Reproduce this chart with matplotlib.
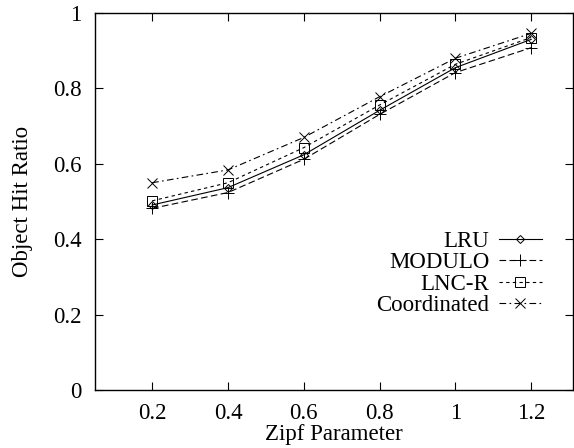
import matplotlib
matplotlib.use("Agg")
import matplotlib.pyplot as plt

plt.rcParams['font.family'] = ['Liberation Serif', 'DejaVu Serif']

# Data
zipf = [0.2, 0.4, 0.6, 0.8, 1.0, 1.2]
lru = [0.491, 0.537, 0.624, 0.742, 0.855, 0.930]
modulo = [0.482, 0.524, 0.612, 0.731, 0.842, 0.908]
lncr = [0.502, 0.550, 0.643, 0.756, 0.864, 0.935]
coordinated = [0.550, 0.584, 0.670, 0.778, 0.880, 0.946]

fig = plt.figure(figsize=(5.74, 4.48), dpi=100)
ax = fig.add_axes([0.166, 0.129, 0.832, 0.842])

lw = 0.8
ax.plot(zipf, lru, color='black', lw=lw, ls='-', marker='D', ms=4.5,
        mfc='none', mew=0.7, label='LRU')
ax.plot(zipf, modulo, color='black', lw=lw, ls=(0, (6, 3)), marker='+', ms=8,
        mew=0.7, label='MODULO')
ax.plot(zipf, lncr, color='black', lw=lw, ls=(0, (3, 3)), marker='s', ms=6.5,
        mfc='none', mew=0.7, label='LNC-R')
ax.plot(zipf, coordinated, color='black', lw=lw, ls=(0, (6, 3, 1.5, 3)), marker='x', ms=6.5,
        mew=0.7, label='Coordinated')

ax.set_xlim(0.05, 1.31)
ax.set_ylim(0, 1)
ax.set_xticks(zipf)
ax.set_xticklabels(['0.2', '0.4', '0.6', '0.8', '1', '1.2'])
ax.set_yticks([0, 0.2, 0.4, 0.6, 0.8, 1])
ax.set_yticklabels(['0', '0.2', '0.4', '0.6', '0.8', '1'])
ax.tick_params(direction='in', top=True, right=True, length=6, labelsize=16.5)
ax.tick_params(axis='x', pad=9)
ax.tick_params(axis='y', pad=10)
for s in ax.spines.values():
    s.set_linewidth(1.0)

ax.set_xlabel('Zipf Parameter', fontsize=16.5, labelpad=0)
ax.set_ylabel('Object Hit Ratio', fontsize=16.5, labelpad=14)

ax.legend(loc='center right', bbox_to_anchor=(0.955, 0.31), frameon=False,
          markerfirst=False, fontsize=16.5, handlelength=1.9, handletextpad=0.4,
          labelspacing=0.02, borderaxespad=0)

fig.savefig('out.png', dpi=100)
